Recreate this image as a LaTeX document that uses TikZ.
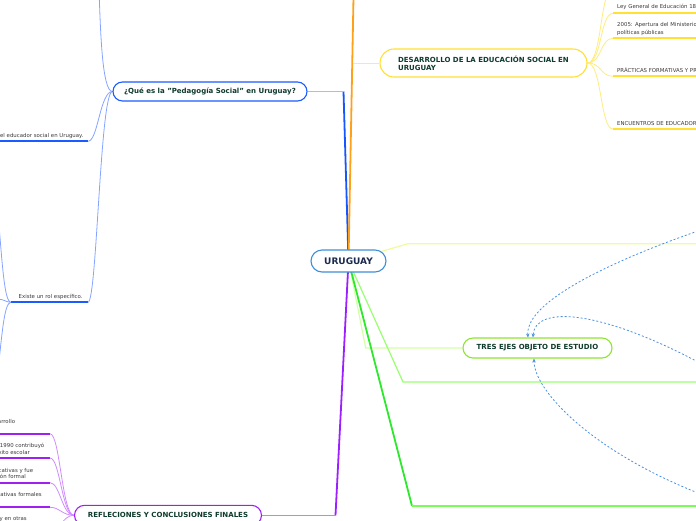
\documentclass[tikz,border=0pt]{standalone}
\usepackage{fontspec}
\setmainfont{DejaVu Sans}
\usetikzlibrary{arrows.meta,backgrounds}
\definecolor{urublue}{HTML}{3D8FD8}
\definecolor{urutext}{HTML}{1B2A4E}
\definecolor{nodetext}{HTML}{0E3B2C}
\definecolor{leaftext}{HTML}{3A3A3A}
\definecolor{qblue}{HTML}{1A5CFF}
\definecolor{qdark}{HTML}{1656FF}
\definecolor{qlight}{HTML}{A8BAFF}
\definecolor{qsubc}{HTML}{86A4FF}
\definecolor{dorange}{HTML}{FFA01A}
\definecolor{dyellow}{HTML}{FFE033}
\definecolor{ylight}{HTML}{FFEC7A}
\definecolor{tgreen}{HTML}{8FE62E}
\definecolor{rpurple}{HTML}{A020F0}
\definecolor{pdark}{HTML}{9B1FFF}
\definecolor{plight}{HTML}{C77DFF}
\definecolor{psubc}{HTML}{D08CFF}
\definecolor{gpaleA}{HTML}{EEFC9A}
\definecolor{gpaleB}{HTML}{D4FFA8}
\definecolor{gmid}{HTML}{99FF70}
\definecolor{gbright}{HTML}{2EE82E}
\definecolor{gbrightL}{HTML}{77FF55}
\definecolor{relblue}{HTML}{4A90E2}
\tikzset{
  topic/.style={draw, line width=1.1pt, fill=white, inner sep=0pt,
    font=\bfseries\fontsize{7}{8}\selectfont, text=nodetext},
  leaf/.style={inner sep=0pt, font=\fontsize{5.4}{7}\selectfont, text=leaftext},
  qsub/.style={qsubc, line width=0.8pt},
  qund/.style={qblue, line width=1.8pt},
  ysub/.style={ylight, line width=0.8pt},
  yund/.style={dyellow, line width=1.8pt},
  psub/.style={psubc, line width=0.8pt},
  pund/.style={rpurple, line width=1.8pt},
  rel/.style={relblue, line width=0.8pt, dash pattern=on 2pt off 2pt,
    -{Stealth[length=4pt,width=3.5pt]}}
}
\begin{document}
\begin{tikzpicture}[x=1pt,y=-1pt]
\useasboundingbox (0,0) rectangle (696,520);
\clip (0,0) rectangle (696,520);

% main topics
\node[topic, draw=urublue, text=urutext, minimum width=75pt, minimum height=22pt,
  rounded corners=11pt, font=\bfseries\fontsize{9}{10}\selectfont] (uru) at (348.5,261) {URUGUAY};
\node[topic, draw=qblue, minimum width=194pt, minimum height=19pt, rounded corners=9.5pt]
  (que) at (210,91.5) {¿Qué es la "Pedagogía Social" en Uruguay?};
\node[topic, draw=dyellow, minimum width=207pt, minimum height=28pt, rounded corners=14pt, align=left]
  (des) at (483.5,63) {DESARROLLO DE LA EDUCACIÓN SOCIAL EN\\URUGUAY};
\node[topic, draw=tgreen, minimum width=149pt, minimum height=20pt, rounded corners=10pt]
  (tres) at (537.5,348) {TRES EJES OBJETO DE ESTUDIO};
\node[topic, draw=rpurple, minimum width=187pt, minimum height=20pt, rounded corners=10pt]
  (ref) at (168,515.3) {REFLECIONES Y CONCLUSIONES FINALES};

% leaf texts
\node[leaf, anchor=base west] (tley) at (617,8.7) {Ley General de Educación 18.437};
\node[leaf, anchor=base west] (t05a) at (617,26.7) {2005: Apertura del Ministerio};
\node[leaf, anchor=base west] (t05b) at (617,34.2) {políticas públicas};
\node[leaf, anchor=base west] (tpra) at (617,72.4) {PRÁCTICAS FORMATIVAS Y PROFESIONALES};
\node[leaf, anchor=base west] (tenc) at (617,125) {ENCUENTROS DE EDUCADORES};
\node[leaf, anchor=base east] (tedu) at (83.5,137.3) {el educador social en Uruguay.};
\node[leaf, anchor=base west] (texi) at (18.5,298.3) {Existe un rol específico.};
\node[leaf, anchor=base east] (tr1) at (15.3,423) {desarrollo};
\node[leaf, anchor=base east] (tr2a) at (44.5,447) {1990 contribuyó};
\node[leaf, anchor=base east] (tr2b) at (30,454.3) {éxito escolar};
\node[leaf, anchor=base east] (tr3a) at (33.3,472.3) {educativas y fue};
\node[leaf, anchor=base east] (tr3b) at (26,478) {educación formal};
\node[leaf, anchor=base east] (tr4) at (42,496) {educativas formales};
\node[leaf, anchor=base east] (tr5) at (27,520.3) {y en otras};

% coordinates for free ends
\coordinate (qbend) at (343.5,91.5);
\coordinate (otop) at (353.5,-3);
\coordinate (ybr) at (352.7,63);
\coordinate (d0s) at (613,-12);
\coordinate (d1s) at (613,13.3);  \coordinate (d1e) at (700,13.3);
\coordinate (d2s) at (613,38.3);  \coordinate (d2e) at (700,38.3);
\coordinate (d3s) at (613,76.3);  \coordinate (d3e) at (700,76.3);
\coordinate (d4s) at (613,129);   \coordinate (d4e) at (700,129);
\coordinate (qa) at (99,-10);
\coordinate (qb) at (88,141.3);   \coordinate (qbe) at (-5,141.3);
\coordinate (qc) at (88,302.3);   \coordinate (qce) at (11,302.3);
\coordinate (e1) at (-3,200);
\coordinate (e2) at (-3,299);
\coordinate (e3) at (-3,380);
\coordinate (pbend) at (335.5,515.3);
\coordinate (r1) at (50,433.7); \coordinate (r1e) at (-5,433.7);
\coordinate (r2) at (50,458);   \coordinate (r2e) at (-5,458);
\coordinate (r3) at (50,482.7); \coordinate (r3e) at (-5,482.7);
\coordinate (r4) at (50,507.3); \coordinate (r4e) at (-5,507.3);
\coordinate (r5) at (50,532);   \coordinate (r5e) at (-5,532);
\coordinate (g1b) at (408,243.7); \coordinate (g1e) at (700,243.7);
\coordinate (g2b) at (365.7,348);
\coordinate (g3b) at (403,382);   \coordinate (g3e) at (700,382);
\coordinate (g4b) at (412,506);   \coordinate (g4e) at (700,506);
\coordinate (ra) at (698,231);
\coordinate (rb) at (698,362);
\coordinate (rc) at (698,493);

\begin{scope}[on background layer]
\clip (0,0) rectangle (696,520);
% blue branch
\draw[qdark, line width=1.8pt] (uru.center) -- (qbend);
\draw[qlight, line width=1.4pt] (qbend) -- (que.east);
% orange / yellow branch
\draw[dorange, line width=1.8pt] (uru.center) -- (otop);
\draw[ylight, line width=1pt] (ybr) -- (des.west);
% purple branch
\draw[pdark, line width=1.8pt] (uru.center) -- (pbend);
\draw[plight, line width=1.4pt] (pbend) -- (ref.east);
% green branches
\draw[gpaleA, line width=1.2pt] (uru.center) -- (g1b) -- (g1e);
\draw[gpaleB, line width=1.2pt] (uru.center) -- (g2b) -- (tres.west);
\draw[gmid, line width=1.2pt] (uru.center) -- (g3b) -- (g3e);
\draw[gbright, line width=1.8pt] (uru.center) -- (g4b);
\draw[gbrightL, line width=1.2pt] (g4b) -- (g4e);

% desarrollo children
\draw[ysub] (des.east) .. controls (602,63) and (600,-12) .. (d0s);
\draw[ysub] (des.east) .. controls (602,63) and (600,13.3) .. (d1s);
\draw[ysub] (des.east) .. controls (602,63) and (600,38.3) .. (d2s);
\draw[ysub] (des.east) .. controls (602,63) and (600,76.3) .. (d3s);
\draw[ysub] (des.east) .. controls (602,63) and (600,129) .. (d4s);
\draw[yund] (d1s) -- (d1e);
\draw[yund] (d2s) -- (d2e);
\draw[yund] (d3s) -- (d3e);
\draw[yund] (d4s) -- (d4e);

% que children
\draw[qsub] (que.west) .. controls (102,91.5) and (100.5,30) .. (qa);
\draw[qsub] (que.west) .. controls (100,91.5) and (98,141.3) .. (qb);
\draw[qsub] (que.west) .. controls (100,91.5) and (97,302.3) .. (qc);
\draw[qund] (qbe) -- (qb);
\draw[qund] (qce) -- (qc);
\draw[qsub] (qce) .. controls (4,302.3) and (2,260) .. (e1);
\draw[qsub] (qce) .. controls (6,302.3) and (4,299) .. (e2);
\draw[qsub] (qce) .. controls (4,302.3) and (2,335) .. (e3);

% reflexiones children
\draw[psub] (ref.west) .. controls (62,515.3) and (60,433.7) .. (r1);
\draw[psub] (ref.west) .. controls (62,515.3) and (60,458) .. (r2);
\draw[psub] (ref.west) .. controls (62,515.3) and (60,482.7) .. (r3);
\draw[psub] (ref.west) .. controls (62,515.3) and (60,507.3) .. (r4);
\draw[psub] (ref.west) .. controls (62,515.3) and (60,532) .. (r5);
\draw[pund] (r1e) -- (r1);
\draw[pund] (r2e) -- (r2);
\draw[pund] (r3e) -- (r3);
\draw[pund] (r4e) -- (r4);
\draw[pund] (r5e) -- (r5);
\end{scope}

% relationship arcs
\draw[rel] (ra) .. controls (620,258) and (525,300) .. ([xshift=-9.5pt]tres.north);
\draw[rel] (rb) .. controls (600,310) and (535,305) .. ([xshift=-4.5pt]tres.north);
\draw[rel] (rc) .. controls (590,450) and (534,390) .. ([xshift=-3.5pt]tres.south);
\end{tikzpicture}
\end{document}
